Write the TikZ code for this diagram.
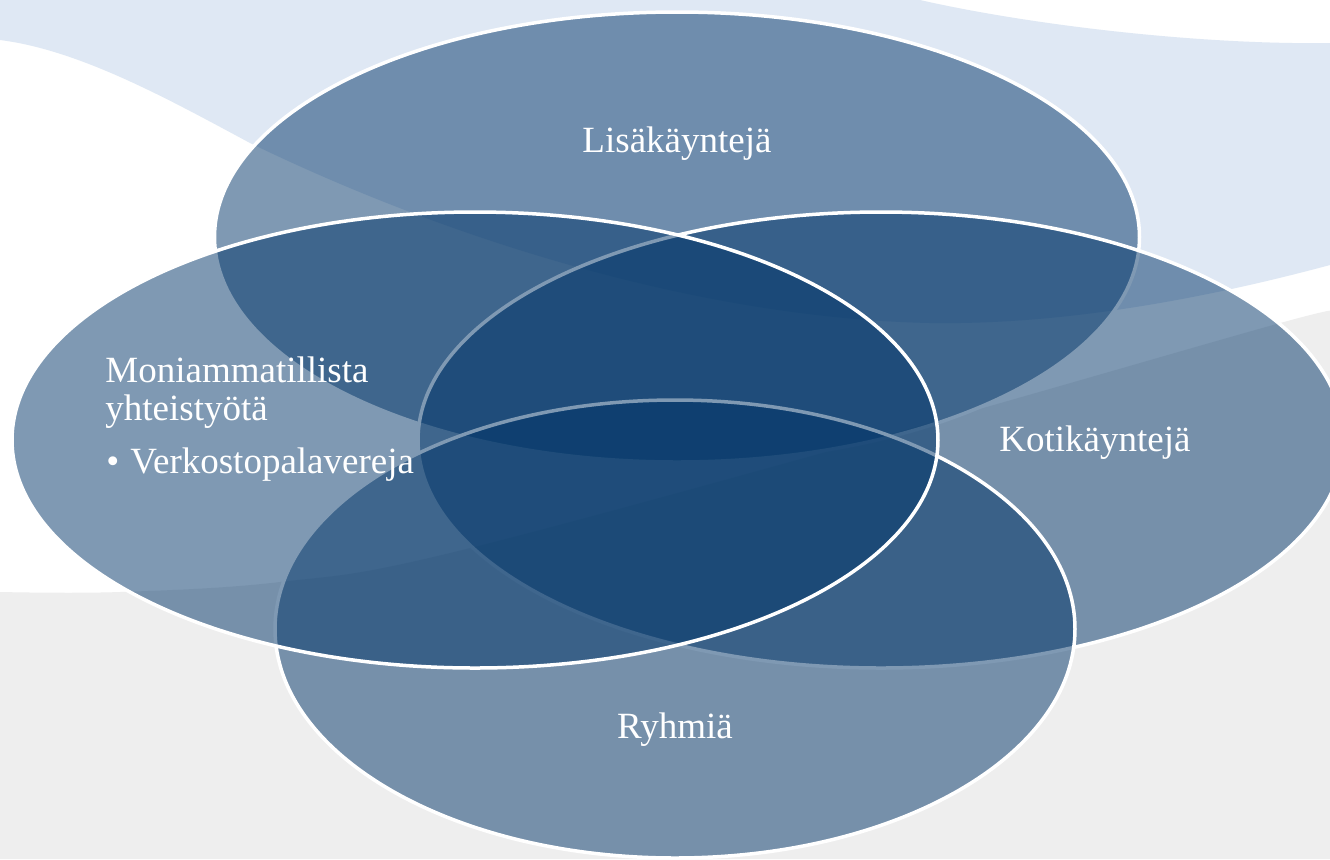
\documentclass[tikz,border=0pt]{standalone}
\usepackage{fontspec}
\setmainfont{Liberation Serif}
\usetikzlibrary{shapes.geometric}
\definecolor{vennblue}{RGB}{0,52,104}
\definecolor{bandblue}{RGB}{223,232,244}
\definecolor{floorgray}{RGB}{238,238,238}

\begin{document}
\begin{tikzpicture}[x=0.5pt, y=-0.5pt]
    \tikzstyle{venn} = [ellipse, draw=white, line width=1.75pt, fill=vennblue, fill opacity=0.5, draw opacity=1]
    \tikzstyle{lbl} = [text=white, font=\fontsize{18.5}{19}\selectfont, inner sep=0pt]

    % Background
    \useasboundingbox (0,0) rectangle (1330,859);
    \clip (0,0) rectangle (1330,859);
    \fill[white] (0,0) rectangle (1330,859);
    \fill[bandblue] (0,0) -- (920,0) .. controls (1030,25) and (1200,45) .. (1330,43) -- (1330,265)
        .. controls (1200,300) and (1060,325) .. (930,323)
        .. controls (700,318) and (450,240) .. (250,143)
        .. controls (170,100) and (80,50) .. (0,40) -- cycle;
    \fill[floorgray] (0,859) -- plot[smooth, tension=0.6] coordinates {(0,592) (120,592) (280,582) (450,553) (880,437) (1273,325) (1330,312)} -- (1330,859) -- cycle;

    % Ellipses
    \node[venn, minimum width=462.5pt, minimum height=225pt] (lisa) at (677,237) {};
    \node[venn, minimum width=463pt, minimum height=228pt] (koti) at (881,440) {};
    \node[venn, minimum width=400pt, minimum height=229pt] (ryhma) at (675,629) {};
    \node[venn, minimum width=463pt, minimum height=228pt] (moni) at (475,440) {};

    % Labels
    \node[lbl, anchor=base] (lisatext) at (677,152) {Lisäkäyntejä};
    \node[lbl, anchor=base] (kotitext) at (1095,451) {Kotikäyntejä};
    \node[lbl, anchor=base] (ryhmatext) at (675,738) {Ryhmiä};
    \node[lbl, anchor=base west] (monitext) at (105,382) {Moniammatillista};
    \node[lbl, anchor=base west] (yhttext) at (105,420) {yhteistyötä};
    \node[lbl, anchor=base west] (verktext) at (106,473) {\textbullet\hspace{0.3em}Verkostopalavereja};
\end{tikzpicture}
\end{document}
